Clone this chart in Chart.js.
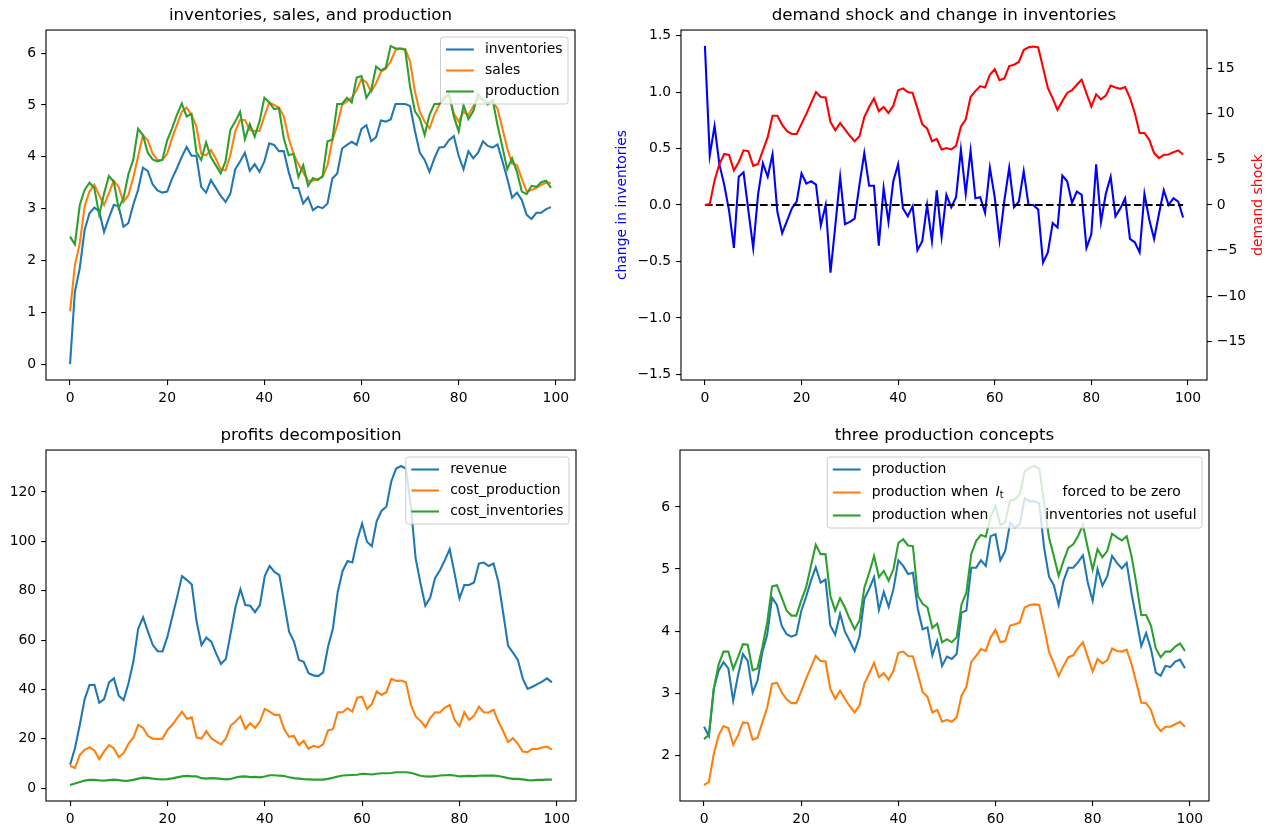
<!DOCTYPE html>
<html>
<head>
<meta charset="utf-8">
<title>inventories, sales and production</title>
<script src="https://cdn.jsdelivr.net/npm/chart.js@4.4.0/dist/chart.umd.min.js"></script>
<style>
  body { margin: 0; background: #fff; }
  #fig { position: relative; width: 1277px; height: 834px; overflow: hidden; }
  .panel { position: absolute; }
  .panel canvas { display: block; }
</style>
</head>
<body>
<div id="fig">
  <div class="panel" style="left:0px;top:0px"><canvas id="stockChart" width="610" height="410"></canvas></div>
  <div class="panel" style="left:610px;top:0px"><canvas id="shockChart" width="667" height="410"></canvas></div>
  <div class="panel" style="left:0px;top:420px"><canvas id="profitChart" width="610" height="411"></canvas></div>
  <div class="panel" style="left:630px;top:420px"><canvas id="conceptChart" width="647" height="411"></canvas></div>
</div>
<script>
// 
// Data (100 periods)
// 

const inventories = [
  0.00, 1.40, 1.85, 2.59, 2.91, 3.02, 2.95, 2.55, 2.82, 3.07,
  3.05, 2.65, 2.72, 3.07, 3.36, 3.79, 3.73, 3.47, 3.35, 3.31,
  3.33, 3.58, 3.78, 4.00, 4.19, 4.02, 4.02, 3.42, 3.31, 3.55,
  3.40, 3.25, 3.13, 3.29, 3.76, 3.91, 4.08, 3.73, 3.86, 3.71,
  3.91, 4.26, 4.23, 4.11, 4.11, 3.71, 3.40, 3.40, 3.10, 3.22,
  2.97, 3.04, 3.01, 3.10, 3.58, 3.68, 4.16, 4.23, 4.29, 4.23,
  4.54, 4.61, 4.30, 4.38, 4.70, 4.68, 4.72, 5.02, 5.02, 5.02,
  4.98, 4.50, 4.08, 3.94, 3.71, 3.97, 4.18, 4.19, 4.32, 4.40,
  4.02, 3.76, 4.11, 3.97, 4.08, 4.30, 4.21, 4.18, 4.24, 3.92,
  3.58, 3.21, 3.31, 3.17, 2.88, 2.80, 2.92, 2.92, 2.99, 3.03
];

const sales = [
  1.02, 1.91, 2.33, 3.04, 3.33, 3.46, 3.26, 3.07, 3.30, 3.54,
  3.42, 3.13, 3.26, 3.59, 4.00, 4.42, 4.32, 4.06, 3.94, 3.94,
  4.06, 4.36, 4.61, 4.87, 4.95, 4.81, 4.59, 4.06, 4.03, 4.13,
  3.97, 3.76, 3.74, 4.03, 4.49, 4.71, 4.71, 4.52, 4.50, 4.50,
  4.78, 5.05, 5.00, 4.95, 4.78, 4.36, 4.06, 3.86, 3.70, 3.54,
  3.54, 3.57, 3.61, 3.84, 4.32, 4.61, 5.00, 5.07, 5.14, 5.29,
  5.50, 5.44, 5.26, 5.42, 5.64, 5.70, 5.84, 6.06, 6.09, 6.08,
  5.84, 5.26, 4.87, 4.68, 4.55, 4.81, 5.00, 5.16, 5.19, 4.84,
  4.68, 4.87, 4.81, 4.97, 5.13, 5.10, 5.05, 5.07, 4.93, 4.55,
  4.16, 3.87, 3.84, 3.58, 3.33, 3.36, 3.40, 3.46, 3.50, 3.50
];

const production = [
  2.46, 2.31, 3.07, 3.36, 3.50, 3.40, 2.88, 3.29, 3.63, 3.52,
  3.01, 3.20, 3.66, 3.94, 4.54, 4.42, 4.08, 3.95, 3.91, 3.94,
  4.32, 4.55, 4.81, 5.03, 4.78, 4.83, 4.09, 3.94, 4.28, 3.99,
  3.84, 3.68, 3.91, 4.52, 4.68, 4.87, 4.34, 4.63, 4.39, 4.68,
  5.14, 5.05, 4.92, 4.94, 4.36, 4.03, 4.06, 3.61, 3.84, 3.44,
  3.59, 3.55, 3.63, 4.30, 4.33, 5.02, 5.02, 5.14, 5.05, 5.53,
  5.56, 5.14, 5.29, 5.74, 5.67, 5.72, 6.14, 6.09, 6.09, 6.06,
  5.35, 4.88, 4.74, 4.42, 4.81, 5.02, 5.02, 5.11, 5.22, 4.78,
  4.49, 5.00, 4.73, 4.88, 5.21, 5.10, 5.01, 5.10, 4.61, 4.19,
  3.76, 3.97, 3.71, 3.33, 3.28, 3.44, 3.42, 3.51, 3.54, 3.40
];

const inventoryChange = [
  1.41, 0.44, 0.70, 0.36, 0.18, -0.05, -0.38, 0.25, 0.29, -0.05,
  -0.38, 0.09, 0.37, 0.25, 0.45, -0.06, -0.25, -0.14, -0.03, 0.03,
  0.28, 0.19, 0.21, 0.18, -0.18, 0.00, -0.60, -0.18, 0.25, -0.17,
  -0.15, -0.12, 0.18, 0.46, 0.17, 0.17, -0.36, 0.15, -0.15, 0.21,
  0.36, -0.03, -0.10, -0.01, -0.40, -0.32, 0.00, -0.32, 0.13, -0.28,
  0.09, -0.02, 0.07, 0.49, 0.10, 0.48, 0.06, 0.07, -0.07, 0.33,
  0.07, -0.31, 0.04, 0.33, -0.02, 0.03, 0.30, 0.00, 0.00, -0.04,
  -0.51, -0.42, -0.16, -0.20, 0.26, 0.21, 0.02, 0.12, 0.09, -0.38,
  -0.26, 0.36, -0.15, 0.10, 0.25, -0.10, -0.03, 0.06, -0.30, -0.33,
  -0.42, 0.10, -0.13, -0.30, -0.08, 0.13, 0.00, 0.06, 0.03, -0.11
];

const demandShock = [
  0.0, 0.1, 2.7, 4.5, 5.6, 5.5, 3.8, 4.7, 6.0, 5.9,
  4.3, 4.5, 6.0, 7.45, 9.8, 9.8, 8.8, 8.1, 7.8, 7.8,
  8.9, 10.0, 11.2, 12.4, 11.85, 11.8, 9.1, 8.2, 9.0, 8.3,
  7.6, 7.0, 7.55, 9.65, 10.75, 11.7, 10.3, 10.75, 10.1, 10.9,
  12.6, 12.8, 12.4, 12.3, 10.6, 8.85, 8.4, 7.0, 7.25, 6.1,
  6.25, 6.1, 6.5, 8.6, 9.4, 11.85, 12.5, 13.05, 12.9, 14.3,
  14.9, 13.7, 13.9, 15.25, 15.4, 15.7, 17.0, 17.3, 17.4, 17.3,
  15.1, 12.85, 11.7, 10.45, 11.4, 12.3, 12.6, 13.2, 13.75, 12.25,
  10.8, 12.15, 11.6, 12.0, 13.1, 12.9, 12.75, 12.95, 11.75, 10.1,
  7.9, 7.9, 7.15, 5.7, 5.15, 5.5, 5.55, 5.8, 6.0, 5.55
];

const revenue = [
  9.5, 16.2, 25.7, 36.1, 41.8, 41.9, 34.6, 36.1, 42.9, 44.5,
  37.5, 35.7, 42.5, 51.2, 64.7, 69.2, 63.4, 58.0, 55.5, 55.4,
  61.4, 69.5, 77.5, 85.9, 84.3, 82.5, 67.4, 58.0, 61.0, 59.4,
  54.6, 50.3, 52.3, 62.8, 73.5, 80.6, 74.2, 73.9, 71.3, 74.2,
  85.9, 90.0, 87.6, 86.3, 74.9, 63.4, 59.4, 52.0, 51.2, 46.6,
  45.7, 45.4, 46.9, 57.3, 64.7, 79.6, 88.0, 92.0, 91.4, 100.5,
  107.2, 99.8, 98.0, 108.2, 112.4, 114.0, 124.3, 129.5, 130.5, 129.5,
  114.6, 93.1, 83.0, 73.9, 77.2, 85.2, 88.3, 92.4, 96.8, 87.0,
  76.9, 82.3, 82.3, 83.3, 91.0, 91.4, 90.0, 91.0, 83.6, 70.8,
  57.7, 54.9, 52.0, 44.5, 40.2, 41.1, 42.2, 43.2, 44.5, 42.9
];

const costProduction = [
  9.1, 8.2, 13.5, 15.6, 16.6, 15.3, 11.8, 14.9, 17.5, 16.2,
  12.6, 14.2, 18.0, 20.5, 25.7, 24.4, 21.2, 20.1, 20.0, 20.1,
  23.6, 25.7, 28.4, 31.0, 28.1, 28.7, 20.5, 20.1, 23.1, 20.3,
  19.0, 17.8, 20.1, 25.4, 27.0, 29.1, 24.1, 26.3, 24.4, 27.0,
  32.1, 31.0, 29.7, 29.7, 23.9, 20.8, 21.2, 17.5, 19.2, 16.0,
  17.2, 16.6, 17.8, 23.4, 23.9, 30.8, 30.8, 32.4, 31.0, 36.7,
  37.1, 32.1, 34.1, 39.2, 37.8, 38.9, 44.3, 43.5, 43.6, 42.9,
  34.0, 29.1, 27.3, 24.8, 28.4, 30.8, 30.7, 32.7, 33.7, 27.7,
  25.2, 30.8, 27.7, 29.3, 33.1, 30.8, 30.7, 31.8, 27.0, 23.1,
  18.7, 20.3, 18.0, 14.9, 14.6, 16.0, 15.9, 16.5, 16.9, 15.6
];

const costInventories = [
  1.3, 1.9, 2.5, 3.1, 3.4, 3.4, 3.2, 3.1, 3.3, 3.5,
  3.3, 3.0, 3.1, 3.4, 3.9, 4.3, 4.2, 3.9, 3.7, 3.6,
  3.7, 4.0, 4.4, 4.8, 5.0, 4.8, 4.8, 4.1, 3.9, 4.1,
  4.0, 3.8, 3.6, 3.8, 4.4, 4.7, 4.8, 4.5, 4.6, 4.4,
  4.8, 5.3, 5.3, 5.1, 5.0, 4.5, 4.1, 3.9, 3.7, 3.6,
  3.5, 3.5, 3.5, 3.8, 4.3, 4.8, 5.2, 5.3, 5.4, 5.5,
  5.9, 5.8, 5.6, 5.9, 6.1, 6.1, 6.2, 6.5, 6.5, 6.5,
  6.3, 5.7, 5.1, 4.8, 4.7, 4.9, 5.2, 5.3, 5.4, 5.2,
  4.8, 4.9, 5.0, 4.9, 5.1, 5.2, 5.1, 5.1, 5.0, 4.6,
  4.1, 3.8, 3.8, 3.6, 3.3, 3.2, 3.4, 3.4, 3.5, 3.5
];

const productionZeroInv = [
  1.52, 1.57, 2.02, 2.32, 2.47, 2.44, 2.17, 2.32, 2.53, 2.52,
  2.25, 2.28, 2.53, 2.77, 3.15, 3.17, 3.01, 2.90, 2.84, 2.84,
  3.03, 3.23, 3.42, 3.60, 3.52, 3.51, 3.07, 2.91, 3.04, 2.91,
  2.79, 2.69, 2.80, 3.15, 3.32, 3.49, 3.26, 3.32, 3.22, 3.36,
  3.65, 3.67, 3.60, 3.59, 3.31, 3.02, 2.94, 2.69, 2.73, 2.54,
  2.57, 2.54, 2.61, 2.96, 3.10, 3.50, 3.60, 3.71, 3.68, 3.90,
  4.02, 3.82, 3.84, 4.09, 4.11, 4.14, 4.38, 4.42, 4.43, 4.42,
  4.06, 3.67, 3.48, 3.28, 3.44, 3.58, 3.61, 3.73, 3.82, 3.58,
  3.35, 3.55, 3.48, 3.53, 3.72, 3.68, 3.67, 3.70, 3.47, 3.17,
  2.85, 2.84, 2.73, 2.49, 2.39, 2.46, 2.46, 2.50, 2.54, 2.46
];

const productionNoInv = [
  2.26, 2.33, 3.07, 3.46, 3.67, 3.67, 3.39, 3.58, 3.79, 3.78,
  3.37, 3.40, 3.74, 4.14, 4.72, 4.74, 4.54, 4.33, 4.25, 4.25,
  4.49, 4.70, 5.05, 5.39, 5.24, 5.24, 4.57, 4.33, 4.53, 4.38,
  4.19, 4.03, 4.17, 4.70, 4.94, 5.21, 4.87, 4.97, 4.81, 5.00,
  5.42, 5.48, 5.38, 5.37, 4.57, 4.44, 4.38, 4.05, 4.12, 3.82,
  3.87, 3.82, 3.90, 4.43, 4.62, 5.24, 5.45, 5.55, 5.52, 5.85,
  6.01, 5.71, 5.75, 6.11, 6.12, 6.20, 6.57, 6.63, 6.66, 6.62,
  6.07, 5.51, 5.21, 4.89, 5.13, 5.34, 5.40, 5.53, 5.71, 5.34,
  4.99, 5.32, 5.19, 5.29, 5.57, 5.51, 5.46, 5.53, 5.21, 4.76,
  4.26, 4.26, 4.09, 3.72, 3.58, 3.67, 3.67, 3.75, 3.80, 3.68
];

// tick labels
const xTicks = [0, 20, 40, 60, 80, 100];
const stockTicks = [0, 1, 2, 3, 4, 5, 6];
const changeTicks = [-1.5, -1.0, -0.5, 0.0, 0.5, 1.0, 1.5];
const shockTicks = [-15, -10, -5, 0, 5, 10, 15];
const profitTicks = [0, 20, 40, 60, 80, 100, 120];
const conceptTicks = [2, 3, 4, 5, 6];

// 
// Styling helpers (matplotlib look)
// 

const FAMILY = '"DejaVu Sans", sans-serif';
const FS = 13.9;      // 10pt
const TITLE_FS = 16.7; // 12pt
const LW = 2.08;      // 1.5pt lines
const C0 = '#1f77b4', C1 = '#ff7f0e', C2 = '#2ca02c';

Chart.defaults.font.family = FAMILY;
Chart.defaults.font.size = FS;
Chart.defaults.color = '#000';

const periods = inventories.map((_, t) => t);
const toPoints = ys => ys.map((y, t) => ({x: periods[t], y: y}));
const minus = s => s.replace('-', '\u2212');

// auto limits with 5% margins, like matplotlib
function padded(...series) {
  const all = series.flat();
  const lo = Math.min(...all), hi = Math.max(...all);
  const m = 0.05 * (hi - lo);
  return [lo - m, hi + m];
}

const tickMarks = {drawOnChartArea: false, drawTicks: true, tickLength: 4.9, color: '#000', lineWidth: 1.1};

function xAxis() {
  const n = periods.length - 1;
  return {
    type: 'linear',
    min: -0.05 * n,
    max: 1.05 * n,
    afterBuildTicks: s => { s.ticks = xTicks.map(v => ({value: v})); },
    afterFit: s => { s.height = 30; },
    grid: tickMarks,
    border: {display: false},
    ticks: {padding: 4.9, maxRotation: 0, autoSkip: false, callback: v => String(v)}
  };
}

function yAxis(range, ticks, width, fmt, extra) {
  return Object.assign({
    type: 'linear',
    min: range[0],
    max: range[1],
    afterBuildTicks: s => { s.ticks = ticks.map(v => ({value: v})); },
    afterFit: s => { s.width = width; },
    grid: tickMarks,
    border: {display: false},
    ticks: {padding: 4.9, autoSkip: false, callback: fmt}
  }, extra || {});
}

function line(label, data, color, order, yAxisID) {
  return {
    label: label,
    data: toPoints(data),
    borderColor: color,
    backgroundColor: color,
    borderWidth: LW,
    pointRadius: 0,
    tension: 0,
    fill: false,
    order: order,
    yAxisID: yAxisID || 'y'
  };
}

function title(text) {
  return {display: true, text: text, color: '#000', fullSize: false,
          font: {size: TITLE_FS, weight: 'normal'}, padding: {top: 6, bottom: 4}};
}

// legend box drawn inside the axes, upper right
function drawLegend(chart, leg) {
  const {ctx, chartArea: a} = chart;
  const pad = 0.4 * FS, handle = 2 * FS, gap = 0.8 * FS, inset = 0.5 * FS;
  ctx.save();
  const rows = leg.rows.map(r => {
    let w = 0;
    const parts = r.parts.map(p => {
      const size = p.sub ? FS * 0.7 : FS;
      const font = (p.italic ? 'italic ' : '') + size + 'px ' + FAMILY;
      ctx.font = font;
      const pw = p.space !== undefined ? p.space : ctx.measureText(p.text).width;
      const part = Object.assign({}, p, {font: font, x: w});
      w += pw;
      return part;
    });
    return {color: chart.data.datasets[r.dataset].borderColor, parts: parts, w: w};
  });
  const textW = Math.max(...rows.map(r => r.w));
  const boxW = pad + handle + gap + textW + pad;
  const boxH = 2 * pad + FS + (rows.length - 1) * leg.rowHeight;
  const x0 = a.right - inset - boxW;
  const y0 = a.top + inset;

  ctx.beginPath();
  ctx.roundRect(x0, y0, boxW, boxH, 0.2 * FS);
  ctx.fillStyle = 'rgba(255,255,255,0.8)';
  ctx.fill();
  ctx.strokeStyle = '#cccccc';
  ctx.lineWidth = 1;
  ctx.stroke();

  rows.forEach((r, k) => {
    const cy = y0 + pad + FS / 2 + k * leg.rowHeight;
    ctx.beginPath();
    ctx.moveTo(x0 + pad, cy);
    ctx.lineTo(x0 + pad + handle, cy);
    ctx.strokeStyle = r.color;
    ctx.lineWidth = LW;
    ctx.stroke();
    const tx = x0 + pad + handle + gap;
    r.parts.forEach(p => {
      if (!p.text) return;
      ctx.font = p.font;
      ctx.fillStyle = '#000';
      ctx.textAlign = 'left';
      ctx.textBaseline = 'middle';
      ctx.fillText(p.text, tx + p.x, cy + (p.sub ? 0.22 * FS : 0));
    });
  });
  ctx.restore();
}

// spines, right-hand axis label and legend
const frame = {
  id: 'frame',
  afterDatasetsDraw(chart, args, opts) {
    const {ctx, chartArea: a} = chart;
    ctx.save();
    ctx.strokeStyle = '#000';
    ctx.lineWidth = 1.1;
    ctx.strokeRect(a.left, a.top, a.right - a.left, a.bottom - a.top);
    if (opts.sideLabel) {
      const s = opts.sideLabel;
      ctx.translate(chart.width - s.inset, (a.top + a.bottom) / 2);
      ctx.rotate(-Math.PI / 2);
      ctx.fillStyle = s.color;
      ctx.font = FS + 'px ' + FAMILY;
      ctx.textAlign = 'center';
      ctx.textBaseline = 'middle';
      ctx.fillText(s.text, 0, 0);
    }
    ctx.restore();
    if (opts.legend) drawLegend(chart, opts.legend);
  }
};

const baseOptions = (padRight, plugins) => ({
  responsive: false,
  animation: false,
  events: [],
  layout: {padding: {left: 0, right: padRight, top: 0, bottom: 0}},
  plugins: Object.assign({legend: {display: false}, tooltip: {enabled: false}}, plugins)
});

// 
// Top left: inventories, sales, and production
// 

new Chart(document.getElementById('stockChart').getContext('2d'), {
  type: 'line',
  data: {
    datasets: [
      line('inventories', inventories, C0, 3),
      line('sales', sales, C1, 2),
      line('production', production, C2, 1)
    ]
  },
  options: Object.assign(baseOptions(35, {
    title: title('inventories, sales, and production'),
    frame: {legend: {rowHeight: 21, rows: [
      {dataset: 0, parts: [{text: 'inventories'}]},
      {dataset: 1, parts: [{text: 'sales'}]},
      {dataset: 2, parts: [{text: 'production'}]}
    ]}}
  }), {
    scales: {
      x: xAxis(),
      y: yAxis(padded(inventories, sales, production), stockTicks, 46, v => String(v))
    }
  }),
  plugins: [frame]
});

// 
// Top right: demand shock and change in inventories (twin axes)
// 

const zeroLine = [0, 0];

new Chart(document.getElementById('shockChart').getContext('2d'), {
  type: 'line',
  data: {
    datasets: [
      line('change in inventories', inventoryChange, '#0000ff', 3, 'y'),
      Object.assign(line('zero', [], '#000000', 2, 'y'), {
        data: [{x: periods[0], y: zeroLine[0]}, {x: periods[periods.length - 1], y: zeroLine[1]}],
        borderDash: [7.7, 3.3]
      }),
      line('demand shock', demandShock, '#ff0000', 1, 'y1')
    ]
  },
  options: Object.assign(baseOptions(0, {
    title: title('demand shock and change in inventories'),
    frame: {sideLabel: {text: 'demand shock', color: '#ff0000', inset: 19}}
  }), {
    scales: {
      x: xAxis(),
      y: yAxis([-1.55, 1.55], changeTicks, 71, v => minus(v.toFixed(1)), {
        position: 'left',
        title: {display: true, text: 'change in inventories', color: '#0000ff',
                font: {size: FS}, padding: {top: 3.7, bottom: 0}}
      }),
      y1: yAxis([-19.2, 19.2], shockTicks, 70, v => minus(String(v)), {position: 'right'})
    }
  }),
  plugins: [frame]
});

// 
// Bottom left: profits decomposition
// 

new Chart(document.getElementById('profitChart').getContext('2d'), {
  type: 'line',
  data: {
    datasets: [
      line('revenue', revenue, C0, 3),
      line('cost_production', costProduction, C1, 2),
      line('cost_inventories', costInventories, C2, 1)
    ]
  },
  options: Object.assign(baseOptions(34, {
    title: title('profits decomposition'),
    frame: {legend: {rowHeight: 21, rows: [
      {dataset: 0, parts: [{text: 'revenue'}]},
      {dataset: 1, parts: [{text: 'cost_production'}]},
      {dataset: 2, parts: [{text: 'cost_inventories'}]}
    ]}}
  }), {
    scales: {
      x: xAxis(),
      y: yAxis(padded(revenue, costProduction, costInventories), profitTicks, 46, v => String(v))
    }
  }),
  plugins: [frame]
});

// 
// Bottom right: three production concepts
// 

new Chart(document.getElementById('conceptChart').getContext('2d'), {
  type: 'line',
  data: {
    datasets: [
      line('production', production, C0, 3),
      line('production when I_t forced to be zero', productionZeroInv, C1, 2),
      line('production when inventories not useful', productionNoInv, C2, 1)
    ]
  },
  options: Object.assign(baseOptions(68, {
    title: title('three production concepts'),
    frame: {legend: {rowHeight: 23, rows: [
      {dataset: 0, parts: [{text: 'production'}]},
      {dataset: 1, parts: [{text: 'production when '}, {space: 3}, {text: 'I', italic: true},
                           {text: 't', sub: true}, {space: 59}, {text: 'forced to be zero'}]},
      {dataset: 2, parts: [{text: 'production when'}, {space: 57}, {text: 'inventories not useful'}]}
    ]}}
  }), {
    scales: {
      x: xAxis(),
      y: yAxis(padded(production, productionZeroInv, productionNoInv), conceptTicks, 50, v => String(v))
    }
  }),
  plugins: [frame]
});
</script>
</body>
</html>
